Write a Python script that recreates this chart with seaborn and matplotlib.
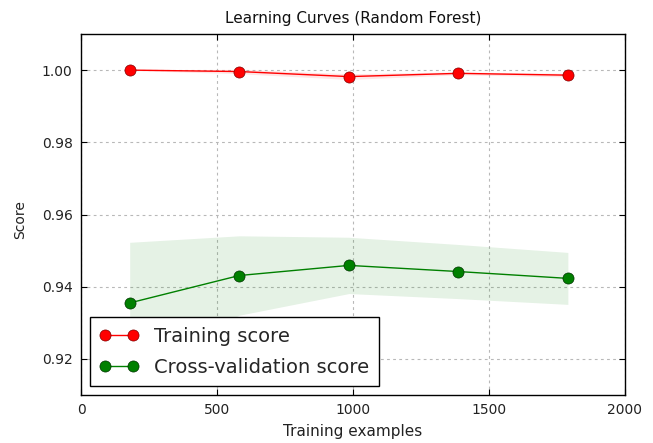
import numpy as np
import pandas as pd
import matplotlib
matplotlib.use("Agg")
import matplotlib.pyplot as plt
import seaborn as sns

train_sizes = [179, 582, 985, 1387, 1790]
train_mean = [1.0000, 0.9996, 0.9982, 0.9991, 0.9986]
train_std = [0.0001, 0.0006, 0.0008, 0.0004, 0.0005]
cv_mean = [0.9355, 0.9431, 0.9459, 0.9442, 0.9423]
cv_std = [0.0168, 0.0110, 0.0078, 0.0075, 0.0072]

sns.set_style("white")
plt.rcParams['font.family'] = ['DejaVu Sans']

fig = plt.figure(figsize=(6.53, 4.43), dpi=100)
ax = fig.add_axes([81/653, (443-395)/443, (625-81)/653, (395-34)/443])

tr = np.array(train_mean); trs = np.array(train_std)
cv = np.array(cv_mean); cvs = np.array(cv_std)
ax.fill_between(train_sizes, tr - trs, tr + trs, alpha=0.1, color="r", linewidth=0)
ax.fill_between(train_sizes, cv - cvs, cv + cvs, alpha=0.1, color="g", linewidth=0)

df_tr = pd.DataFrame({"x": train_sizes, "y": train_mean})
df_cv = pd.DataFrame({"x": train_sizes, "y": cv_mean})
sns.lineplot(data=df_tr, x="x", y="y", ax=ax, color="r", marker="o", markersize=8,
             markeredgecolor="#800000", markeredgewidth=0.5, linewidth=1.0, label="Training score")
sns.lineplot(data=df_cv, x="x", y="y", ax=ax, color="g", marker="o", markersize=8,
             markeredgecolor="#003300", markeredgewidth=0.5, linewidth=1.0, label="Cross-validation score")

ax.set_xlim(0, 2000)
ax.set_ylim(0.91, 1.01)
ax.set_xticks([0, 500, 1000, 1500, 2000])
ax.set_yticks([0.92, 0.94, 0.96, 0.98, 1.00])
ax.set_yticklabels(["0.92", "0.94", "0.96", "0.98", "1.00"])
ax.grid(True, color="#b8b8b8", linestyle=(0, (2.5, 3)), linewidth=0.8)
for s in ax.spines.values():
    s.set_color("black")
    s.set_linewidth(1.0)
ax.tick_params(direction="in", length=4, width=0.8, top=True, right=True,
               bottom=True, left=True, labelsize=10, colors="black", pad=6)
for lbl in ax.get_xticklabels() + ax.get_yticklabels():
    lbl.set_color("#222222")
ax.set_title("Learning Curves (Random Forest)", fontsize=11, color="#111111", pad=8)
ax.set_xlabel("Training examples", fontsize=11, color="#222222", labelpad=5)
ax.set_ylabel("Score", fontsize=10, color="#222222")
ax.yaxis.set_label_coords(-0.099, 0.485)

leg = ax.legend(loc="lower left", numpoints=2, fontsize=14, fancybox=False, framealpha=1,
                edgecolor="black", borderaxespad=0.45, handlelength=2, borderpad=0.5,
                labelspacing=0.6, handletextpad=0.8)
leg.get_frame().set_linewidth(1.0)

fig.savefig("out.png", dpi=100)
